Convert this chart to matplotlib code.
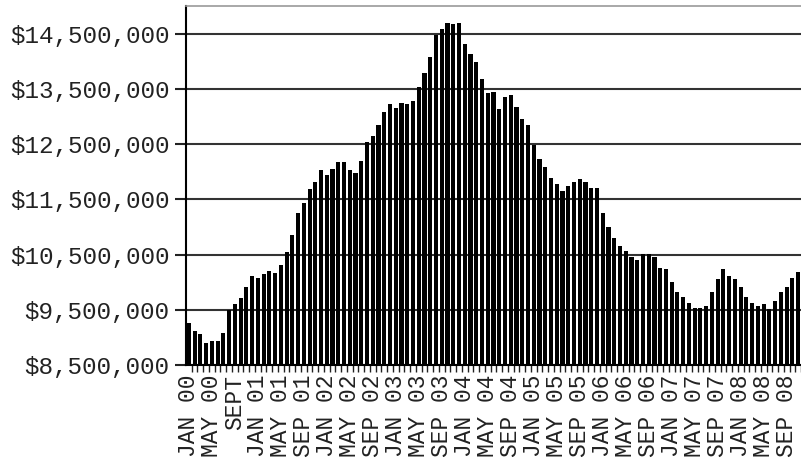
import numpy as np
import matplotlib
matplotlib.use("Agg")
import matplotlib.pyplot as plt
from matplotlib.ticker import FuncFormatter, FixedLocator

# monthly values, millions of dollars, JAN 00 .. NOV 08
values = [9.26, 9.12, 9.06, 8.89, 8.94, 8.94, 9.08, 9.49, 9.60, 9.72, 9.91, 10.11,
          10.08, 10.14, 10.20, 10.17, 10.31, 10.54, 10.86, 11.26, 11.43, 11.68, 11.82, 12.03,
          11.94, 12.05, 12.17, 12.17, 12.03, 11.97, 12.20, 12.53, 12.65, 12.85, 13.08, 13.22,
          13.16, 13.25, 13.22, 13.28, 13.54, 13.79, 14.08, 14.48, 14.59, 14.70, 14.68, 14.70,
          14.31, 14.13, 13.99, 13.68, 13.42, 13.44, 13.14, 13.36, 13.39, 13.17, 12.96, 12.85,
          12.48, 12.23, 12.08, 11.89, 11.77, 11.65, 11.74, 11.82, 11.87, 11.82, 11.71, 11.71,
          11.26, 11.00, 10.80, 10.66, 10.57, 10.46, 10.40, 10.51, 10.51, 10.46, 10.26, 10.23,
          10.00, 9.83, 9.74, 9.62, 9.54, 9.53, 9.57, 9.82, 10.05, 10.23, 10.12, 10.05,
          9.91, 9.74, 9.62, 9.57, 9.60, 9.51, 9.65, 9.82, 9.91, 10.08, 10.19]

tick_labels = ["JAN 00", "MAY 00", "SEPT",
               "JAN 01", "MAY 01", "SEP 01", "JAN 02", "MAY 02", "SEP 02",
               "JAN 03", "MAY 03", "SEP 03", "JAN 04", "MAY 04", "SEP 04",
               "JAN 05", "MAY 05", "SEP 05", "JAN 06", "MAY 06", "SEP 06",
               "JAN 07", "MAY 07", "SEP 07", "JAN 08", "MAY 08", "SEP 08"]
y_ticks = [8.5, 9.5, 10.5, 11.5, 12.5, 13.5, 14.5]

plt.rcParams['font.family'] = ['Liberation Mono', 'DejaVu Sans Mono']

fig = plt.figure(figsize=(8.01, 4.59), dpi=100)
ax = fig.add_axes([186/801, 94/459, 1 - 186/801, 359/459])

x = np.arange(len(values))
ax.bar(x, values, width=0.72, color='black', zorder=2)

ax.set_xlim(-0.5, len(values) - 0.5)
ax.set_ylim(8.5, 15.0)

ax.set_yticks(y_ticks)
ax.yaxis.set_major_formatter(FuncFormatter(lambda v, p: "${:,.0f}".format(v * 1e6)))
ax.tick_params(axis='y', length=8, width=1.5, labelsize=17.5, pad=4, colors='#222222')
ax.grid(axis='y', color='#333333', linewidth=1.5, zorder=1)
ax.set_axisbelow(True)

ax.set_xticks(x[::4][:len(tick_labels)])
ax.set_xticklabels(tick_labels, rotation=90, fontsize=16.5, va='top', ha='center')
ax.xaxis.set_minor_locator(FixedLocator(x + 0.5))
ax.tick_params(axis='x', which='major', length=0, pad=7, colors='#222222')
ax.tick_params(axis='x', which='minor', length=5, width=1, color='#222222')

ax.spines['right'].set_visible(False)
ax.spines['top'].set_color('#999999')
ax.spines['top'].set_linewidth(1.2)
ax.spines['left'].set_linewidth(1.5)
ax.spines['bottom'].set_linewidth(1.5)

fig.savefig("out.png", dpi=100)
